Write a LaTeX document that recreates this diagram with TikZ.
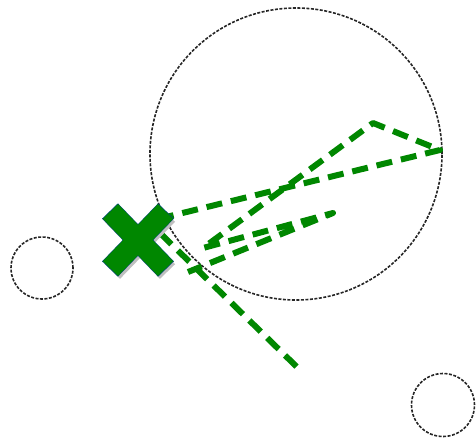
\documentclass[tikz,border=0pt]{standalone}
\usepackage{tikz}
\usetikzlibrary{shapes.misc}
\definecolor{trazo}{RGB}{0,135,0}

\begin{document}
\begin{tikzpicture}[x=1pt,y=-1pt,semithick]
  \tikzstyle{zone}=[circle,draw=black!85,line width=1.6pt,
                                    dash pattern=on 3pt off 1.5pt,
                                    inner sep=0pt]
  \tikzstyle{cruz}=[cross out,draw=trazo,line width=21pt,
                                    inner sep=0pt,
                                    minimum width=34pt,
                                    minimum height=36pt]
  \tikzstyle{track}=[draw=trazo,line width=6pt,line join=round,
                                    dash pattern=on 16pt off 9pt]
  \useasboundingbox (0,0) rectangle (476,445);
  %Circulos
  \node[zone,minimum size=292pt] (region) at (296,154) {};
  \node[zone,minimum size=62pt] (hole1) at (42,268) {};
  \node[zone,minimum size=63pt] (hole2) at (443,405) {};
  %Puntos de la trayectoria
  \coordinate (a) at (440,150);
  \coordinate (b) at (373,123);
  \coordinate (c) at (203,248);
  \coordinate (d) at (333,213);
  \coordinate (e) at (188,272);
  \coordinate (f) at (300,370);
  \coordinate (s1) at (158,219);
  \coordinate (s2) at (160,233);
  %Trayectoria
  \path[track] (s1) -- (a) -- (b) -- (c) -- (d) -- (e);
  \path[track] (s2) -- (f);
  %Marca
  \node[cruz,draw=black!25] (shade) at (140,243) {};
  \node[cruz,line width=22pt,draw=blue!45!trazo] (edge) at (138,240) {};
  \node[cruz] (start) at (138,240) {};
\end{tikzpicture}
\end{document}
